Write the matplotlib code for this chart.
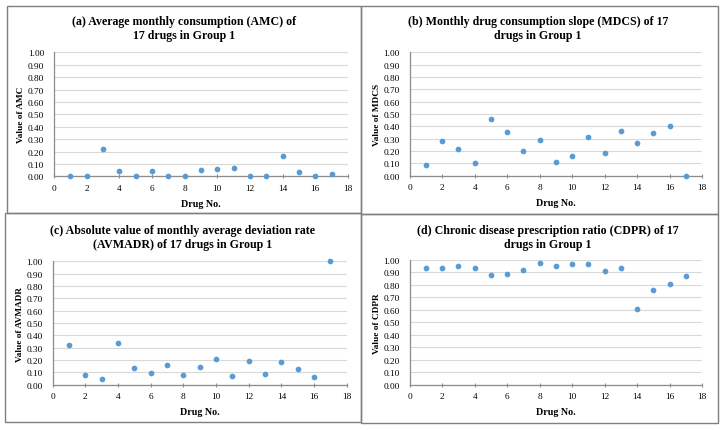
import matplotlib
matplotlib.use("Agg")
import matplotlib.pyplot as plt
from matplotlib.patches import Rectangle

drug_no = list(range(1, 18))

amc = [0.003, 0.00, 0.223, 0.040, 0.00, 0.040, 0.00, 0.00, 0.048, 0.059, 0.065,
       0.00, 0.003, 0.161, 0.035, 0.00, 0.022]
mdcs = [0.086, 0.284, 0.214, 0.100, 0.459, 0.357, 0.203, 0.286, 0.114, 0.162, 0.314,
        0.181, 0.359, 0.268, 0.346, 0.400, 0.000]
avmadr = [0.322, 0.078, 0.043, 0.338, 0.135, 0.095, 0.159, 0.078, 0.143, 0.208, 0.073,
          0.189, 0.089, 0.186, 0.124, 0.059, 1.000]
cdpr = [0.931, 0.936, 0.947, 0.933, 0.875, 0.885, 0.920, 0.971, 0.949, 0.963, 0.965,
        0.909, 0.931, 0.608, 0.755, 0.803, 0.872]

titles = [
    "(a) Average monthly consumption (AMC) of\n17 drugs in Group 1",
    "(b) Monthly drug consumption slope (MDCS) of 17\ndrugs in Group 1",
    "(c) Absolute value of monthly average deviation rate\n(AVMADR) of 17 drugs in Group 1",
    "(d) Chronic disease prescription ratio (CDPR) of 17\ndrugs in Group 1",
]
ylabels = ["Value of AMC", "Value of MDCS", "Value of AVMADR", "Value of CDPR"]
series = [amc, mdcs, avmadr, cdpr]
yticks = [i / 10 for i in range(11)]
xticks = list(range(0, 19, 2))

W, H = 724, 431
fig = plt.figure(figsize=(W / 100, H / 100), dpi=100)
serif = ["Liberation Serif", "DejaVu Serif"]

# axes rectangles in pixel coords (x0, x1, ytop, ybottom)
axpix = [
    (54, 348, 53.3, 177.3),
    (409.7, 702, 53.3, 176.7),
    (52.7, 346.7, 262.3, 385.7),
    (409.7, 702, 260.7, 385.7),
]
title_pos = [(184.5, 29), (537.8, 29), (182.5, 238), (547.8, 238)]
boxes = [(7, 7, 361, 214), (361, 7, 718, 215), (5, 214, 361, 423), (361, 215, 718, 424)]

for (bx0, by0, bx1, by1) in boxes:
    fig.patches.append(Rectangle((bx0 / W, 1 - by1 / H), (bx1 - bx0) / W, (by1 - by0) / H,
                                 transform=fig.transFigure, fill=False,
                                 edgecolor="#7f7f7f", linewidth=1.0))

for i in range(4):
    x0, x1, yt, yb = axpix[i]
    ax = fig.add_axes([x0 / W, 1 - yb / H, (x1 - x0) / W, (yb - yt) / H])
    ax.scatter(drug_no, series[i], s=17, color="#5B9BD5", zorder=3, linewidths=0,
               clip_on=False)
    ax.set_xlim(0, 18)
    ax.set_ylim(0, 1)
    ax.set_xticks(xticks)
    ax.set_yticks(yticks)
    ax.set_yticklabels([f"{v:.2f}" for v in yticks], family=serif, fontsize=6.7)
    ax.set_xticklabels([str(v) for v in xticks], family=serif, fontsize=6.7)
    ax.grid(axis="y", color="#d9d9d9", linewidth=0.8)
    ax.set_axisbelow(True)
    for s in ["top", "right"]:
        ax.spines[s].set_visible(False)
    for s in ["left", "bottom"]:
        ax.spines[s].set_color("#8c8c8c")
        ax.spines[s].set_linewidth(0.9)
    ax.tick_params(axis="x", direction="inout", length=3, width=0.8, color="#8c8c8c", pad=4)
    ax.tick_params(axis="y", length=0, pad=7)
    ax.set_ylabel(ylabels[i], family=serif, fontsize=6.7, fontweight="bold", labelpad=2)
    ax.set_xlabel("Drug No.", family=serif, fontsize=7.2, fontweight="bold", labelpad=5)
    tx, ty = title_pos[i]
    fig.text(tx / W, 1 - ty / H, titles[i], ha="center", va="center", family=serif,
             fontsize=8.6, fontweight="bold", linespacing=1.2)

fig.savefig("out.png", dpi=100)
